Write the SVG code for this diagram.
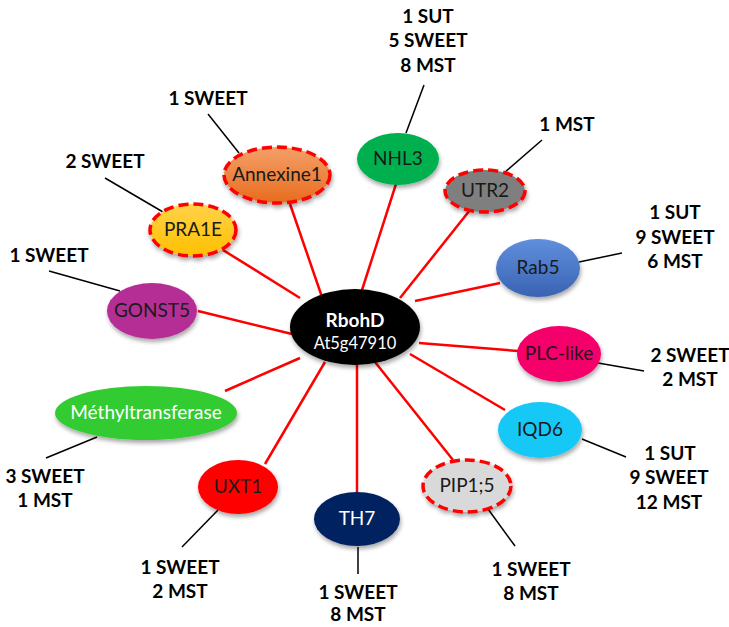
<svg xmlns="http://www.w3.org/2000/svg" width="729" height="627" viewBox="0 0 729 627">
<style>
.lbl{font-family:Lato,"Open Sans","Liberation Sans",sans-serif;font-weight:bold;font-size:19px;fill:#000;text-anchor:middle}
.nt{font-family:Lato,"Open Sans","Liberation Sans",sans-serif;font-size:19px;fill:#1a1a1a;text-anchor:middle}
.wt{fill:#fff}
.red{stroke:#ff0000;stroke-width:2.5;fill:none}
.blk{stroke:#000;stroke-width:1.5;fill:none}
.dash{stroke:#ff0000;stroke-width:3.5;stroke-dasharray:10 5}
.sh{filter:url(#shadow)}
</style>
<defs>
<filter id="shadow" x="-20%" y="-20%" width="140%" height="150%">
<feDropShadow dx="1" dy="3" stdDeviation="2" flood-color="#000" flood-opacity="0.35"/>
</filter>
<linearGradient id="gOr" x1="0" y1="0" x2="0" y2="1"><stop offset="0" stop-color="#f4a068"/><stop offset="1" stop-color="#e86c1e"/></linearGradient>
<linearGradient id="gYe" x1="0" y1="0" x2="0" y2="1"><stop offset="0" stop-color="#ffd24a"/><stop offset="1" stop-color="#ffc000"/></linearGradient>
<linearGradient id="gBl" x1="0" y1="0" x2="0" y2="1"><stop offset="0" stop-color="#5f8fde"/><stop offset="1" stop-color="#3a63b2"/></linearGradient>
</defs>
<rect width="729" height="627" fill="#fff"/>
<g id="connectors">
<line class="red" x1="290" y1="204" x2="322" y2="297"/>
<line class="red" x1="396" y1="184" x2="362" y2="290"/>
<line class="red" x1="470" y1="210" x2="400" y2="298"/>
<line class="red" x1="223" y1="250" x2="300" y2="298"/>
<line class="red" x1="500" y1="283" x2="415" y2="301"/>
<line class="red" x1="198" y1="311" x2="292" y2="334"/>
<line class="red" x1="419" y1="343" x2="518" y2="351"/>
<line class="red" x1="225" y1="391" x2="300" y2="358"/>
<line class="red" x1="410" y1="354" x2="505" y2="410"/>
<line class="red" x1="265" y1="464" x2="325" y2="362"/>
<line class="red" x1="357" y1="362" x2="357" y2="492"/>
<line class="red" x1="375" y1="362" x2="453" y2="460"/>
<line class="blk" x1="239" y1="153" x2="208" y2="114"/>
<line class="blk" x1="406" y1="133" x2="424" y2="85"/>
<line class="blk" x1="504" y1="173" x2="542" y2="140"/>
<line class="blk" x1="163" y1="212" x2="105" y2="178"/>
<line class="blk" x1="579" y1="262" x2="622" y2="253"/>
<line class="blk" x1="120" y1="291" x2="49" y2="271"/>
<line class="blk" x1="598" y1="363" x2="644" y2="371"/>
<line class="blk" x1="97" y1="437" x2="46" y2="458"/>
<line class="blk" x1="582" y1="439" x2="626" y2="457"/>
<line class="blk" x1="218" y1="510" x2="182" y2="547"/>
<line class="blk" x1="358" y1="547" x2="358" y2="574"/>
<line class="blk" x1="488" y1="509" x2="515" y2="546"/>
</g>
<g id="node-center"><ellipse class="sh" cx="355" cy="327" rx="65" ry="38" fill="#000"/>
<text class="nt wt" x="355" y="327" style="font-weight:bold;font-size:19px">RbohD</text>
<text class="nt wt" x="355" y="349" style="font-size:16.5px">At5g47910</text></g>
<g id="node-annexine1"><ellipse class="sh dash" cx="277" cy="175" rx="53" ry="28" fill="url(#gOr)"/><text class="nt" x="277" y="181">Annexine1</text></g>
<g id="node-nhl3"><ellipse class="sh" cx="398" cy="159" rx="41" ry="26" fill="#00b050"/><text class="nt" x="398" y="165">NHL3</text></g>
<g id="node-utr2"><ellipse class="sh dash" cx="485" cy="191" rx="40" ry="21" fill="#7f7f7f"/><text class="nt" x="485" y="197">UTR2</text></g>
<g id="node-pra1e"><ellipse class="sh dash" cx="193" cy="230" rx="43" ry="26" fill="url(#gYe)"/><text class="nt" x="193" y="236">PRA1E</text></g>
<g id="node-rab5"><ellipse class="sh" cx="538" cy="268" rx="42" ry="29" fill="url(#gBl)"/><text class="nt" x="538" y="274">Rab5</text></g>
<g id="node-gonst5"><ellipse class="sh" cx="152" cy="311" rx="45" ry="28" fill="#b42e96"/><text class="nt" x="152" y="317">GONST5</text></g>
<g id="node-plclike"><ellipse class="sh" cx="559" cy="354" rx="42" ry="28" fill="#f5056b"/><text class="nt" x="559" y="360" style="fill:#2a1020">PLC-like</text></g>
<g id="node-methyl"><ellipse class="sh" cx="146" cy="413" rx="91" ry="27" fill="#33cc33"/><text class="nt wt" x="146" y="419">Méthyltransferase</text></g>
<g id="node-iqd6"><ellipse class="sh" cx="540" cy="430" rx="42" ry="28" fill="#14c8f5"/><text class="nt" x="540" y="436">IQD6</text></g>
<g id="node-uxt1"><ellipse class="sh" cx="238" cy="487" rx="40" ry="27" fill="#ff0000"/><text class="nt" x="238" y="493">UXT1</text></g>
<g id="node-th7"><ellipse class="sh" cx="357" cy="519" rx="43" ry="27" fill="#002060"/><text class="nt wt" x="357" y="525">TH7</text></g>
<g id="node-pip15"><ellipse class="sh dash" cx="467" cy="486" rx="44" ry="26" fill="#d9d9d9"/><text class="nt" x="467" y="492">PIP1;5</text></g>
<g id="labels">
<text class="lbl" x="428" y="23">1 SUT</text><text class="lbl" x="428" y="47">5 SWEET</text><text class="lbl" x="428" y="72">8 MST</text>
<text class="lbl" x="208" y="105">1 SWEET</text>
<text class="lbl" x="567" y="131">1 MST</text>
<text class="lbl" x="105" y="168">2 SWEET</text>
<text class="lbl" x="675" y="219">1 SUT</text><text class="lbl" x="675" y="244">9 SWEET</text><text class="lbl" x="675" y="268">6 MST</text>
<text class="lbl" x="49" y="262">1 SWEET</text>
<text class="lbl" x="690" y="362">2 SWEET</text><text class="lbl" x="690" y="386">2 MST</text>
<text class="lbl" x="670" y="460">1 SUT</text><text class="lbl" x="669" y="484">9 SWEET</text><text class="lbl" x="669" y="509">12 MST</text>
<text class="lbl" x="45" y="483">3 SWEET</text><text class="lbl" x="45" y="507">1 MST</text>
<text class="lbl" x="180" y="574">1 SWEET</text><text class="lbl" x="180" y="598">2 MST</text>
<text class="lbl" x="358" y="599">1 SWEET</text><text class="lbl" x="358" y="621">8 MST</text>
<text class="lbl" x="531" y="576">1 SWEET</text><text class="lbl" x="531" y="600">8 MST</text>
</g>
</svg>
